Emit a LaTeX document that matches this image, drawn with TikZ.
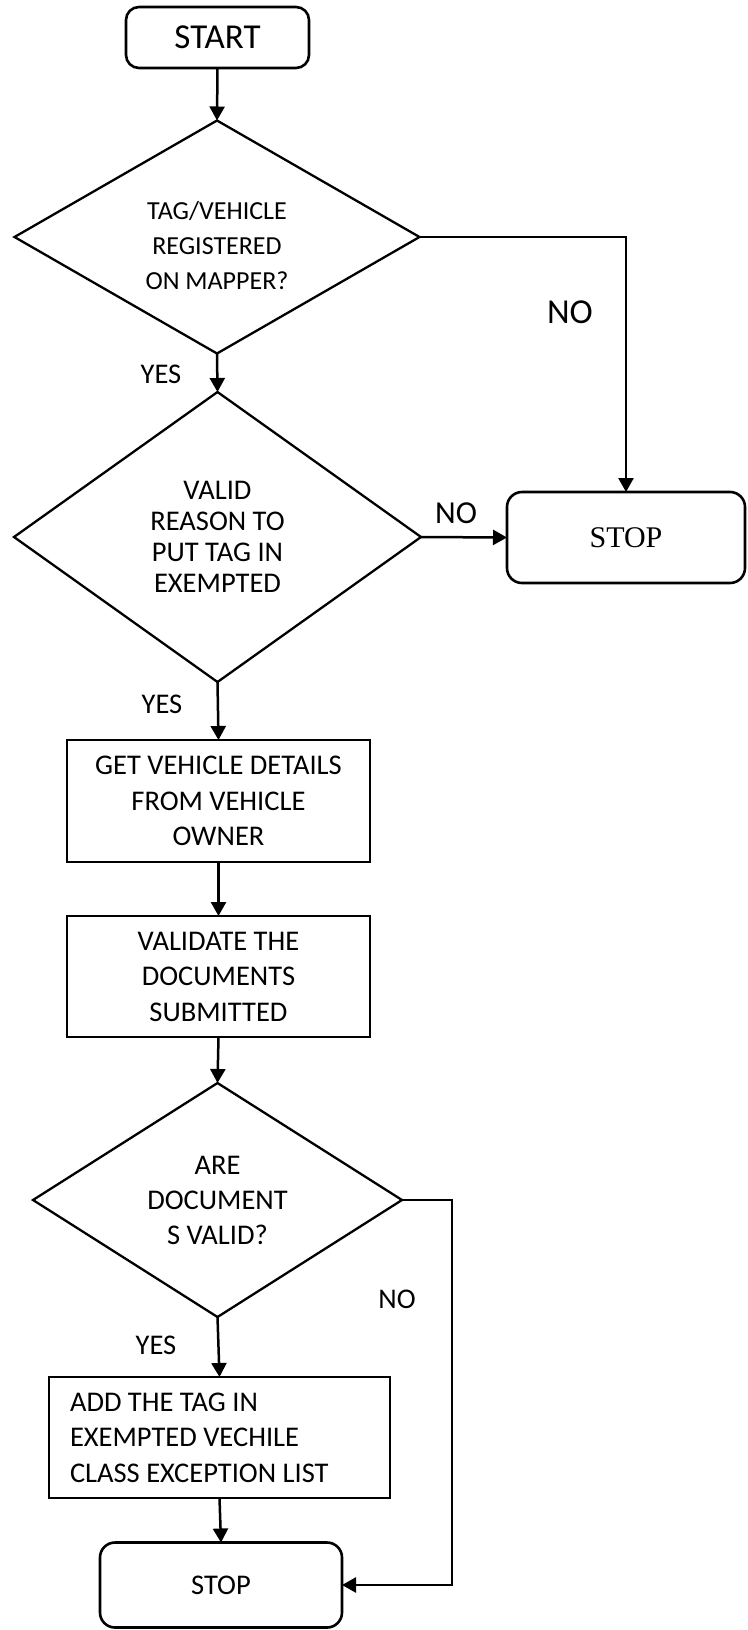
\documentclass[tikz,border=0pt]{standalone}
\usepackage{fontspec}
\setmainfont{Carlito}
\newfontfamily\stopserif{Liberation Serif}
\usetikzlibrary{shapes.geometric,arrows.meta}
\begin{document}
\begin{tikzpicture}[x=1pt,y=-1pt,
  every node/.style={inner sep=0pt, outer sep=0pt, font=\fontsize{28.5}{35.5}\selectfont},
  terminal/.style={draw, line width=2.6pt, rounded corners=13pt},
  process/.style={draw, line width=2.6pt, align=center},
  decision/.style={draw, line width=2.3pt, shape=diamond, align=center},
  flow/.style={line width=2.5pt, -{Triangle[length=14pt,width=15pt]}},
  answer/.style={font=\fontsize{28.5}{34}\selectfont}]
\useasboundingbox (0,0) rectangle (747,1630);

% terminals, steps and decisions
\node[terminal, minimum width=183pt, minimum height=61pt,
      font=\fontsize{35}{40}\selectfont] (start) at (217.5,37.5) {START};
% the zero-width strut lowers the question a little inside its diamond
\node[decision, aspect=1.74, minimum width=405pt, minimum height=233pt,
      font=\fontsize{26}{35}\selectfont] (d1) at (217,237)
      {\rule{0pt}{10pt}\\[-10pt]TAG/VEHICLE\\REGISTERED\\ON MAPPER?};
\node[decision, aspect=1.4, minimum width=407pt, minimum height=290pt,
      font=\fontsize{28.5}{31}\selectfont] (d2) at (217.5,537)
      {VALID\\REASON TO\\PUT TAG IN\\EXEMPTED};
\node[terminal, rounded corners=15pt, minimum width=238pt, minimum height=91pt,
      font=\stopserif\fontsize{30}{36}\selectfont] (stop1) at (626,537.5) {STOP};
\node[process, minimum width=303pt, minimum height=122pt] (box1) at (218.5,801)
      {GET VEHICLE DETAILS\\FROM VEHICLE\\OWNER};
\node[process, minimum width=303pt, minimum height=121pt] (box2) at (218.5,976.5)
      {VALIDATE THE\\DOCUMENTS\\SUBMITTED};
\node[decision, aspect=1.58, minimum width=369pt, minimum height=234pt,
      font=\fontsize{28.5}{35}\selectfont] (d3) at (217.5,1200)
      {ARE\\DOCUMENT\\S VALID?};
\node[process, align=flush left, text width=299pt, inner xsep=21pt,
      minimum height=121pt] (box3) at (219.5,1437.5)
      {ADD THE TAG IN\\EXEMPTED VECHILE\\CLASS EXCEPTION LIST};
\node[terminal, rounded corners=15pt, minimum width=242pt, minimum height=85pt]
      (stop2) at (221,1585) {STOP};

% branch labels
\node[answer, font=\fontsize{35}{40}\selectfont] (no1) at (570,312) {NO};
\node[answer, font=\fontsize{32}{38}\selectfont] (no2) at (456,513) {NO};
\node[answer] (no3) at (397,1299) {NO};
\node[answer] (yes1) at (161,374) {YES};
\node[answer] (yes2) at (162,704) {YES};
\node[answer] (yes3) at (156,1345) {YES};

% connectors
\draw[flow] (start.south) -- (d1.north);
\draw[flow] (d1.east) -| (stop1.north);
\draw[flow] (d1.south) -- (d2.north);
\draw[flow] (d2.east) -- (stop1.west);
\draw[flow] (d2.south) -- (box1.north);
\draw[flow] (box1.south) -- (box2.north);
\draw[flow] (box2.south) -- (d3.north);
\draw[flow] (d3.south) -- (box3.north);
\draw[flow] (box3.south) -- (stop2.north);
\draw[flow] (d3.east) -- ++(50,0) |- (stop2.east);
\end{tikzpicture}
\end{document}
